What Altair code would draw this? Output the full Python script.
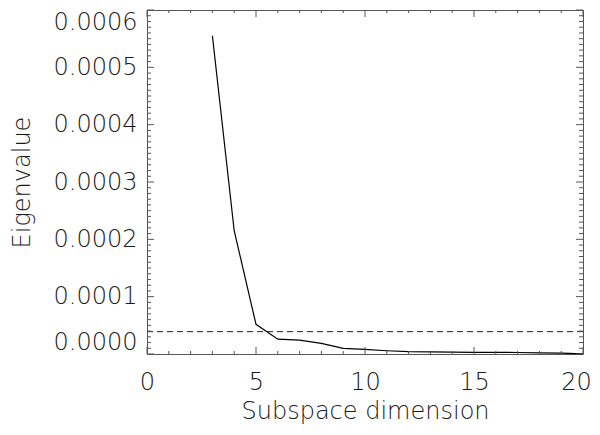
import altair as alt
import pandas as pd

# data
dims = [3, 4, 5, 6, 7, 8, 9, 10, 11, 12, 13, 14, 15, 16, 17, 18, 19, 20]
eigen = [0.000555, 0.000215, 0.0000517, 0.0000259, 0.0000241, 0.0000184, 0.0000098,
         0.0000081, 0.0000057, 0.0000040, 0.0000037, 0.0000034, 0.0000030, 0.0000028,
         0.0000026, 0.0000020, 0.0000015, 0.0000002]
threshold = [0.000039]

x_major = [0, 5, 10, 15, 20]
x_minor = [i for i in range(0, 21) if i % 5 != 0]
y_major = [0.0, 0.0001, 0.0002, 0.0003, 0.0004, 0.0005, 0.0006]
y_minor = [round(i * 0.00001, 6) for i in range(0, 61) if i % 10 != 0]

W, H = 436, 344
FONT = "DejaVu Sans"
TXT = "#1a1a1a"
AX = "#555555"

xs = alt.Scale(domain=[0, 20], nice=False, zero=False)
ys = alt.Scale(domain=[0, 0.0006], nice=False, zero=False)

df = pd.DataFrame({"dim": dims, "eig": eigen})

line = alt.Chart(df).mark_line(color="black", strokeWidth=1.2).encode(
    x=alt.X("dim:Q", scale=xs,
            axis=alt.Axis(title="Subspace dimension", values=x_major, format="d",
                          grid=False, ticks=False, tickSize=0, domain=False,
                          labelFlush=False, labelPadding=16, titlePadding=5,
                          labelOffset=alt.condition("datum.value == 20",
                                                    alt.value(-7), alt.value(0)))),
    y=alt.Y("eig:Q", scale=ys,
            axis=alt.Axis(title="Eigenvalue", values=y_major, format=".4f",
                          grid=False, ticks=False, tickSize=0, domain=False,
                          labelPadding=10, titlePadding=19, labelFlush=True)),
)

thr = alt.Chart(pd.DataFrame({"t": threshold})).mark_rule(
    color="#222222", strokeDash=[6, 4], strokeWidth=1
).encode(y=alt.Y("t:Q", scale=ys))

def xticks(vals, length):
    d = pd.DataFrame({"v": vals})
    bot = alt.Chart(d).mark_rule(color=AX, strokeWidth=1).encode(
        x=alt.X("v:Q", scale=xs), y=alt.value(H), y2=alt.value(H - length))
    top = alt.Chart(d).mark_rule(color=AX, strokeWidth=1).encode(
        x=alt.X("v:Q", scale=xs), y=alt.value(0), y2=alt.value(length))
    return [bot, top]

def yticks(vals, length):
    d = pd.DataFrame({"v": vals})
    left = alt.Chart(d).mark_rule(color=AX, strokeWidth=1).encode(
        y=alt.Y("v:Q", scale=ys), x=alt.value(0), x2=alt.value(length))
    right = alt.Chart(d).mark_rule(color=AX, strokeWidth=1).encode(
        y=alt.Y("v:Q", scale=ys), x=alt.value(W), x2=alt.value(W - length))
    return [left, right]

layers = ([line, thr] + xticks(x_major, 7) + xticks(x_minor, 3)
          + yticks(y_major, 7) + yticks(y_minor, 4))

chart = alt.layer(*layers).properties(
    width=W, height=H,
    autosize=alt.AutoSizeParams(type="none"),
    padding={"left": 139, "top": 2, "right": 9, "bottom": 73},
    background="white",
).configure_view(
    stroke=AX, strokeWidth=1
).configure_axis(
    labelFont=FONT, titleFont=FONT, labelFontSize=24, titleFontSize=24,
    labelFontWeight=200, titleFontWeight=200,
    labelColor=TXT, titleColor=TXT,
)

chart.save("out.html", embed_options={"renderer": "svg", "actions": False})
